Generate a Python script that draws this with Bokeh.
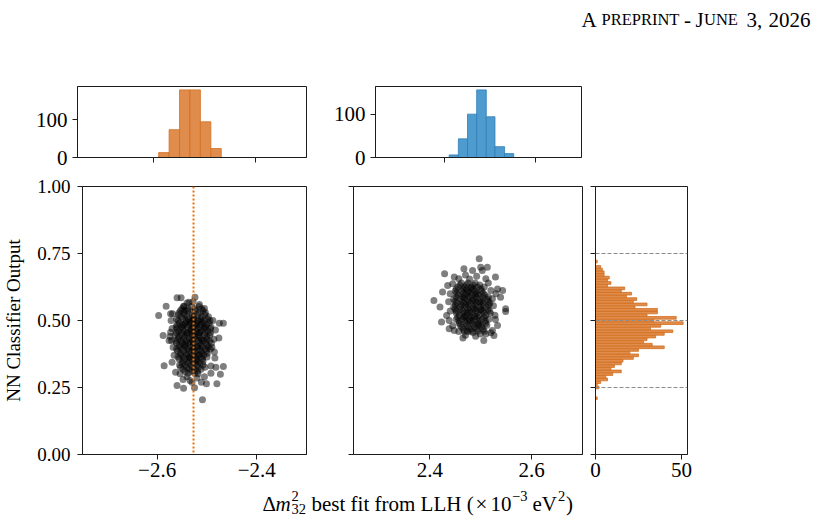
from bokeh.plotting import figure
from bokeh.layouts import column, row
from bokeh.models import Range1d, FixedTicker, CustomJSTickFormatter, Span
from bokeh.core.properties import value
from bokeh.embed import file_html
from bokeh.resources import INLINE
import numpy as np

# ---------------------------------------------------------------- data
# best-fit delta m^2_32 vs. NN output, inverted ordering (left) and normal ordering (right)
io_points = [
    (-2.546, 0.552), (-2.531, 0.552), (-2.516, 0.552),
    (-2.553, 0.537), (-2.539, 0.537), (-2.523, 0.537), (-2.508, 0.537),
    (-2.557, 0.521), (-2.544, 0.521), (-2.530, 0.521), (-2.518, 0.521), (-2.504, 0.521),
    (-2.561, 0.506), (-2.548, 0.506), (-2.537, 0.506), (-2.525, 0.506), (-2.512, 0.506), (-2.499, 0.506),
    (-2.555, 0.491), (-2.543, 0.491), (-2.533, 0.491), (-2.520, 0.491), (-2.508, 0.491), (-2.496, 0.491),
    (-2.562, 0.476), (-2.551, 0.476), (-2.539, 0.476), (-2.527, 0.476), (-2.515, 0.476), (-2.503, 0.476), (-2.492, 0.476),
    (-2.557, 0.461), (-2.546, 0.461), (-2.533, 0.461), (-2.522, 0.461), (-2.511, 0.461), (-2.498, 0.461),
    (-2.564, 0.446), (-2.552, 0.446), (-2.540, 0.446), (-2.529, 0.446), (-2.517, 0.446), (-2.505, 0.446), (-2.494, 0.446),
    (-2.558, 0.431), (-2.547, 0.431), (-2.535, 0.431), (-2.523, 0.431), (-2.511, 0.431), (-2.500, 0.431),
    (-2.561, 0.416), (-2.550, 0.416), (-2.538, 0.416), (-2.526, 0.416), (-2.514, 0.416), (-2.502, 0.416), (-2.491, 0.416),
    (-2.556, 0.401), (-2.544, 0.401), (-2.532, 0.401), (-2.520, 0.401), (-2.509, 0.401), (-2.497, 0.401),
    (-2.559, 0.386), (-2.547, 0.386), (-2.536, 0.386), (-2.524, 0.386), (-2.512, 0.386), (-2.501, 0.386),
    (-2.553, 0.371), (-2.541, 0.371), (-2.529, 0.371), (-2.518, 0.371), (-2.506, 0.371),
    (-2.556, 0.356), (-2.545, 0.356), (-2.533, 0.356), (-2.521, 0.356), (-2.509, 0.356),
    (-2.550, 0.341), (-2.538, 0.341), (-2.526, 0.341), (-2.514, 0.341),
    (-2.553, 0.326), (-2.541, 0.326), (-2.529, 0.326), (-2.517, 0.326), (-2.504, 0.326),
    (-2.544, 0.311), (-2.531, 0.311), (-2.519, 0.311),
    (-2.540, 0.514), (-2.526, 0.514), (-2.511, 0.514), (-2.552, 0.514), (-2.497, 0.514),
    (-2.548, 0.469), (-2.533, 0.469), (-2.519, 0.469), (-2.505, 0.469), (-2.560, 0.469), (-2.493, 0.469),
    (-2.545, 0.438), (-2.530, 0.438), (-2.515, 0.438), (-2.557, 0.438), (-2.500, 0.438),
    (-2.543, 0.408), (-2.528, 0.408), (-2.513, 0.408), (-2.555, 0.408), (-2.500, 0.408),
    (-2.540, 0.378), (-2.525, 0.378), (-2.511, 0.378), (-2.553, 0.378), (-2.499, 0.378),
    (-2.536, 0.348), (-2.520, 0.348), (-2.548, 0.348), (-2.508, 0.348),
    (-2.550, 0.544), (-2.538, 0.544), (-2.524, 0.544), (-2.511, 0.544),
    (-2.556, 0.529), (-2.546, 0.529), (-2.531, 0.529), (-2.516, 0.529), (-2.503, 0.529),
    (-2.558, 0.499), (-2.542, 0.499), (-2.530, 0.499), (-2.518, 0.499), (-2.506, 0.499), (-2.494, 0.499),
    (-2.560, 0.484), (-2.549, 0.484), (-2.537, 0.484), (-2.525, 0.484), (-2.513, 0.484), (-2.501, 0.484),
    (-2.561, 0.454), (-2.551, 0.454), (-2.539, 0.454), (-2.527, 0.454), (-2.516, 0.454), (-2.504, 0.454), (-2.493, 0.454),
    (-2.563, 0.424), (-2.552, 0.424), (-2.541, 0.424), (-2.529, 0.424), (-2.517, 0.424), (-2.506, 0.424), (-2.495, 0.424),
    (-2.561, 0.394), (-2.550, 0.394), (-2.538, 0.394), (-2.526, 0.394), (-2.514, 0.394), (-2.503, 0.394), (-2.493, 0.394),
    (-2.558, 0.364), (-2.547, 0.364), (-2.535, 0.364), (-2.523, 0.364), (-2.511, 0.364), (-2.500, 0.364),
    (-2.555, 0.334), (-2.544, 0.334), (-2.532, 0.334), (-2.520, 0.334), (-2.508, 0.334),
    (-2.548, 0.318), (-2.536, 0.318), (-2.524, 0.318), (-2.512, 0.318),
    (-2.538, 0.303), (-2.525, 0.303),
    (-2.535, 0.495), (-2.521, 0.483), (-2.530, 0.466), (-2.515, 0.455), (-2.540, 0.452),
    (-2.524, 0.440), (-2.510, 0.425), (-2.533, 0.420), (-2.545, 0.410), (-2.519, 0.403),
    (-2.530, 0.390), (-2.515, 0.372), (-2.535, 0.362), (-2.522, 0.350), (-2.527, 0.505),
    (-2.512, 0.498), (-2.547, 0.482), (-2.506, 0.476),
    (-2.560, 0.585), (-2.552, 0.585), (-2.536, 0.568), (-2.524, 0.587), (-2.582, 0.553),
    (-2.597, 0.519), (-2.573, 0.525), (-2.569, 0.525), (-2.547, 0.553), (-2.544, 0.537),
    (-2.475, 0.490), (-2.467, 0.490), (-2.588, 0.444), (-2.476, 0.435), (-2.573, 0.456),
    (-2.576, 0.425), (-2.571, 0.425), (-2.485, 0.382), (-2.586, 0.331), (-2.570, 0.344),
    (-2.467, 0.328), (-2.482, 0.326), (-2.492, 0.303), (-2.473, 0.299), (-2.560, 0.257),
    (-2.534, 0.276), (-2.511, 0.270), (-2.501, 0.264), (-2.480, 0.264), (-2.547, 0.247),
    (-2.525, 0.249), (-2.509, 0.204), (-2.563, 0.307), (-2.554, 0.301), (-2.518, 0.301),
    (-2.572, 0.500), (-2.570, 0.470), (-2.574, 0.440), (-2.568, 0.400), (-2.566, 0.370),
    (-2.488, 0.500), (-2.483, 0.465), (-2.486, 0.430), (-2.490, 0.400), (-2.484, 0.360),
    (-2.492, 0.330), (-2.505, 0.290), (-2.520, 0.285), (-2.540, 0.290), (-2.548, 0.280),
    (-2.530, 0.270), (-2.515, 0.560), (-2.505, 0.545), (-2.528, 0.570), (-2.540, 0.565),
]

no_points = [
    (2.462, 0.640), (2.475, 0.640), (2.489, 0.640),
    (2.455, 0.625), (2.468, 0.625), (2.481, 0.625), (2.494, 0.625), (2.507, 0.625),
    (2.450, 0.610), (2.463, 0.610), (2.476, 0.610), (2.489, 0.610), (2.502, 0.610),
    (2.456, 0.595), (2.469, 0.595), (2.482, 0.595), (2.495, 0.595), (2.508, 0.595),
    (2.447, 0.580), (2.460, 0.580), (2.473, 0.580), (2.486, 0.580), (2.499, 0.580), (2.512, 0.580),
    (2.453, 0.565), (2.466, 0.565), (2.479, 0.565), (2.492, 0.565), (2.505, 0.565), (2.518, 0.565),
    (2.447, 0.550), (2.459, 0.550), (2.472, 0.550), (2.485, 0.550), (2.498, 0.550), (2.511, 0.550),
    (2.452, 0.535), (2.465, 0.535), (2.478, 0.535), (2.491, 0.535), (2.504, 0.535), (2.517, 0.535),
    (2.458, 0.520), (2.471, 0.520), (2.484, 0.520), (2.497, 0.520), (2.510, 0.520),
    (2.452, 0.505), (2.464, 0.505), (2.477, 0.505), (2.490, 0.505), (2.503, 0.505), (2.516, 0.505),
    (2.458, 0.490), (2.471, 0.490), (2.484, 0.490), (2.497, 0.490), (2.510, 0.490),
    (2.463, 0.475), (2.476, 0.475), (2.489, 0.475), (2.502, 0.475),
    (2.468, 0.460), (2.481, 0.460), (2.494, 0.460), (2.507, 0.460),
    (2.465, 0.588), (2.478, 0.588), (2.491, 0.588), (2.452, 0.588), (2.504, 0.588), (2.515, 0.588),
    (2.462, 0.558), (2.476, 0.558), (2.490, 0.558), (2.504, 0.558), (2.450, 0.558), (2.516, 0.558),
    (2.465, 0.528), (2.479, 0.528), (2.493, 0.528), (2.506, 0.528), (2.452, 0.528), (2.519, 0.528),
    (2.470, 0.498), (2.483, 0.498), (2.496, 0.498), (2.457, 0.498), (2.509, 0.498),
    (2.472, 0.618), (2.486, 0.618), (2.452, 0.618), (2.465, 0.618), (2.500, 0.618),
    (2.459, 0.632), (2.472, 0.632), (2.485, 0.632), (2.498, 0.632),
    (2.453, 0.602), (2.466, 0.602), (2.479, 0.602), (2.492, 0.602), (2.505, 0.602),
    (2.450, 0.572), (2.463, 0.572), (2.476, 0.572), (2.489, 0.572), (2.502, 0.572), (2.515, 0.572),
    (2.450, 0.542), (2.462, 0.542), (2.475, 0.542), (2.488, 0.542), (2.501, 0.542), (2.514, 0.542),
    (2.455, 0.512), (2.468, 0.512), (2.481, 0.512), (2.494, 0.512), (2.507, 0.512),
    (2.460, 0.482), (2.473, 0.482), (2.486, 0.482), (2.499, 0.482), (2.512, 0.482),
    (2.466, 0.467), (2.479, 0.467), (2.492, 0.467), (2.505, 0.467),
    (2.475, 0.605), (2.490, 0.598), (2.468, 0.585), (2.484, 0.575), (2.498, 0.568),
    (2.470, 0.560), (2.486, 0.545), (2.500, 0.540), (2.474, 0.530), (2.488, 0.515),
    (2.478, 0.500), (2.495, 0.485), (2.468, 0.515), (2.482, 0.620),
    (2.497, 0.730), (2.500, 0.699), (2.513, 0.699), (2.503, 0.687), (2.467, 0.693),
    (2.484, 0.687), (2.429, 0.674), (2.529, 0.662), (2.448, 0.662), (2.457, 0.656),
    (2.510, 0.656), (2.435, 0.631), (2.445, 0.637), (2.533, 0.618), (2.543, 0.612),
    (2.520, 0.612), (2.425, 0.606), (2.408, 0.575), (2.420, 0.550), (2.539, 0.587),
    (2.549, 0.544), (2.549, 0.534), (2.523, 0.581), (2.433, 0.519), (2.423, 0.494),
    (2.529, 0.504), (2.533, 0.481), (2.523, 0.463), (2.438, 0.469), (2.448, 0.463),
    (2.457, 0.459), (2.510, 0.450), (2.520, 0.454), (2.490, 0.441), (2.499, 0.450),
    (2.506, 0.425), (2.526, 0.444), (2.474, 0.459),
    (2.440, 0.600), (2.437, 0.570), (2.440, 0.535), (2.438, 0.500), (2.525, 0.555),
    (2.528, 0.520), (2.530, 0.600), (2.470, 0.670), (2.492, 0.665), (2.478, 0.655),
    (2.515, 0.640), (2.445, 0.480), (2.470, 0.445), (2.485, 0.455), (2.465, 0.435),
]

io_x = [p[0] for p in io_points]
io_y = [p[1] for p in io_points]
no_x = [p[0] for p in no_points]
no_y = [p[1] for p in no_points]

# marginal histogram of the IO best fits
io_hist_edges = [-2.5905, -2.5700, -2.5495, -2.5290, -2.5085, -2.4880, -2.4675]
io_hist_counts = [13, 74, 180, 180, 95, 24]

# marginal histogram of the NO best fits
no_hist_edges = [2.411, 2.431, 2.451, 2.471, 2.492, 2.511, 2.532, 2.552]
no_hist_counts = [6, 43, 100, 156, 94, 25, 9]

# NN output histogram (both orderings), bins of 0.01 from 0.205 upwards
nn_bin_start = 0.205
nn_bin_width = 0.01
nn_counts = [1, 0, 0, 0, 2, 1, 3, 7, 6, 10, 15, 9, 11, 15, 16, 22, 25, 20, 25, 40,
             33, 28, 30, 35, 40, 45, 32, 38, 51, 34, 47, 30, 36, 36, 23, 30, 22, 24,
             18, 21, 15, 17, 7, 9, 7, 8, 5, 5, 4, 3, 0, 1]
nn_edges = nn_bin_start + nn_bin_width * np.arange(len(nn_counts) + 1)

true_dm2_io = -2.527
nn_guides = [0.25, 0.5, 0.75]

y_ticks = [0.0, 0.25, 0.5, 0.75, 1.0]
io_x_ticks = [-2.6, -2.4]
no_x_ticks = [2.4, 2.6]
hist_count_ticks = [0, 100]
nn_count_ticks = [0, 50]

# ---------------------------------------------------------------- style
SERIF = "Liberation Serif"
INK = "#1c1c1c"
ORANGE = "#E08C4C"
ORANGE_EDGE = "#D2701F"
BLUE = "#4E9BCF"
BLUE_EDGE = "#2F7DB5"
FS_Y = "19px"
FS_X = "21px"

MINUS_FMT = CustomJSTickFormatter(
    code="const s = Math.abs(tick).toFixed(1); return tick < 0 ? '\\u2212' + s : s;")


def panel(width, height, x_range, y_range, left, right, top, bottom):
    p = figure(width=width, height=height, x_range=x_range, y_range=y_range,
               min_border_left=left, min_border_right=right,
               min_border_top=top, min_border_bottom=bottom,
               toolbar_location=None, output_backend="svg")
    p.outline_line_color = INK
    p.outline_line_width = 1
    p.xgrid.visible = False
    p.ygrid.visible = False
    for ax in p.axis:
        ax.axis_line_color = INK
        ax.major_tick_line_color = INK
        ax.major_tick_out = 5
        ax.major_tick_in = 0
        ax.minor_tick_out = 0
        ax.minor_tick_in = 0
        ax.major_label_text_font = SERIF
        ax.major_label_text_font_size = FS_X
        ax.major_label_text_color = "black"
        ax.major_label_standoff = 4
        ax.axis_label_text_font = SERIF
        ax.axis_label_text_font_style = "normal"
        ax.axis_label_text_font_size = FS_Y
        ax.axis_label_text_color = "black"
    return p


def no_labels(ax):
    ax.formatter = CustomJSTickFormatter(code="return '';")
    ax.major_label_text_font_size = "0px"
    ax.major_label_standoff = 0


def blank(width, height):
    p = figure(width=width, height=height, x_range=Range1d(0, width),
               y_range=Range1d(height, 0), x_axis_type=None, y_axis_type=None,
               min_border=0, toolbar_location=None, output_backend="svg")
    p.min_border_left = p.min_border_right = p.min_border_top = p.min_border_bottom = 0
    p.outline_line_color = None
    p.xgrid.visible = False
    p.ygrid.visible = False
    return p


def put(p, x, y, txt, size, style="normal"):
    p.text(x=[x], y=[y], text=[txt], text_font=value(SERIF), text_font_size=size,
           text_font_style=style, text_color="black",
           text_baseline="alphabetic", text_align="left")


# ---------------------------------------------------------------- header (small caps)
head = blank(822, 40)
put(head, 581.0, 19, "A", "21px")
put(head, 601.0, 19, "PREPRINT", "16.5px")
put(head, 683.5, 19, "-", "21px")
put(head, 695.0, 19, "J", "21px")
put(head, 703.5, 19, "UNE", "16.5px")
put(head, 746.0, 19, "3,", "21px")
put(head, 768.0, 19, "2026", "21px")

# ---------------------------------------------------------------- top marginals
top_io = panel(330, 130, Range1d(-2.75, -2.30), Range1d(0, 189), 77, 24, 46, 13)
top_io.quad(left=io_hist_edges[:-1], right=io_hist_edges[1:], bottom=0, top=io_hist_counts,
            fill_color=ORANGE, line_color=ORANGE_EDGE, line_width=0.8)
top_io.xaxis.ticker = FixedTicker(ticks=io_x_ticks)
no_labels(top_io.xaxis[0])
top_io.yaxis.ticker = FixedTicker(ticks=hist_count_ticks)
top_io.yaxis.major_label_standoff = 5

top_no = panel(492, 130, Range1d(2.25, 2.70), Range1d(0, 163.8), 23, 241, 46, 13)
top_no.quad(left=no_hist_edges[:-1], right=no_hist_edges[1:], bottom=0, top=no_hist_counts,
            fill_color=BLUE, line_color=BLUE_EDGE, line_width=0.8)
top_no.xaxis.ticker = FixedTicker(ticks=no_x_ticks)
no_labels(top_no.xaxis[0])
top_no.yaxis.ticker = FixedTicker(ticks=hist_count_ticks)
top_no.yaxis.major_label_standoff = 5

# ---------------------------------------------------------------- main scatters
main_io = panel(330, 313, Range1d(-2.75, -2.30), Range1d(0, 1), 77, 24, 16, 29)
main_io.scatter(io_x, io_y, size=7, fill_color="black", fill_alpha=0.5, line_color=None)
main_io.add_layout(Span(location=true_dm2_io, dimension="height", line_color="#E8720C",
                        line_dash="2 2", line_width=2))
main_io.xaxis.ticker = FixedTicker(ticks=io_x_ticks)
main_io.xaxis.formatter = MINUS_FMT
main_io.xaxis.major_label_standoff = 3
main_io.yaxis.ticker = FixedTicker(ticks=y_ticks)
main_io.yaxis.formatter = CustomJSTickFormatter(code="return tick.toFixed(2);")
main_io.yaxis.major_label_text_font_size = FS_Y
main_io.yaxis.major_label_standoff = 7
main_io.yaxis.axis_label = "NN Classifier Output"
main_io.yaxis.axis_label_standoff = 10

main_no = panel(253, 313, Range1d(2.25, 2.70), Range1d(0, 1), 23, 1, 16, 29)
main_no.scatter(no_x, no_y, size=7, fill_color="black", fill_alpha=0.5, line_color=None)
main_no.xaxis.ticker = FixedTicker(ticks=no_x_ticks)
main_no.xaxis.formatter = MINUS_FMT
main_no.xaxis.major_label_standoff = 3
main_no.yaxis.ticker = FixedTicker(ticks=y_ticks)
no_labels(main_no.yaxis[0])

# ---------------------------------------------------------------- NN output marginal
side = panel(239, 313, Range1d(0, 53.55), Range1d(0, 1), 12, 135, 16, 29)
side.quad(left=0, right=nn_counts, bottom=nn_edges[:-1], top=nn_edges[1:],
          fill_color=ORANGE, line_color=ORANGE_EDGE, line_width=0.8)
for g in nn_guides:
    side.add_layout(Span(location=g, dimension="width", line_color="#8c8c8c",
                         line_dash="4 2", line_width=1))
side.xaxis.ticker = FixedTicker(ticks=nn_count_ticks)
side.xaxis.major_label_standoff = 3
side.yaxis.ticker = FixedTicker(ticks=y_ticks)
no_labels(side.yaxis[0])

# ---------------------------------------------------------------- shared x label
foot = blank(822, 34)
BASE = 20
put(foot, 262.0, BASE, "\u0394", "21px")
put(foot, 275.0, BASE, "m", "21px", "italic")
put(foot, 291.0, BASE - 8, "2", "14.5px")
put(foot, 291.0, BASE + 5, "32", "14.5px")
put(foot, 311.0, BASE, "best fit from LLH (", "21px")
put(foot, 475.0, BASE, "\u00d7", "21px")
put(foot, 490.0, BASE, "10", "21px")
put(foot, 511.5, BASE - 8, "\u22123", "14.5px")
put(foot, 532.0, BASE, "eV", "21px")
put(foot, 557.5, BASE - 8, "2", "14.5px")
put(foot, 565.5, BASE, ")", "21px")

layout = column(head, row(top_io, top_no), row(main_io, main_no, side), foot)

open("out.html", "w").write(file_html(layout, INLINE))
